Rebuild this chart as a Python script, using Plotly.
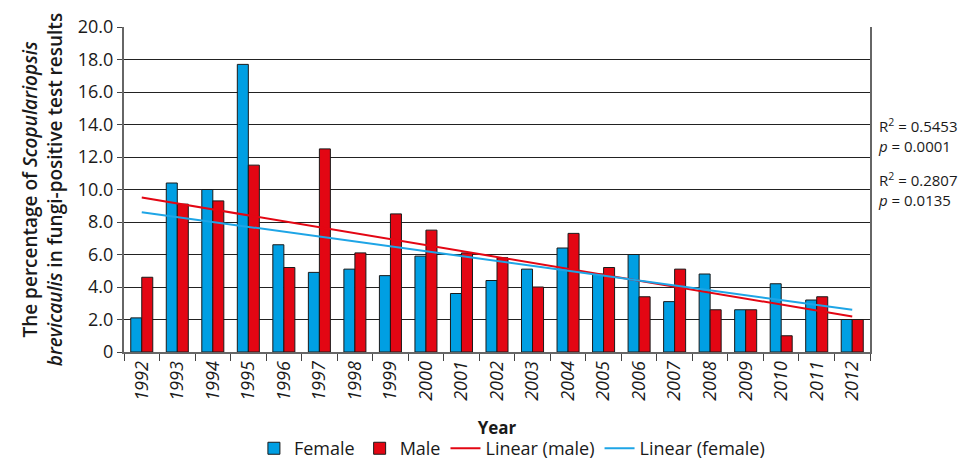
import numpy as np
import plotly.graph_objects as go

years = [str(y) for y in range(1992, 2013)]
female = [2.1, 10.4, 10.0, 17.7, 6.6, 4.9, 5.1, 4.7, 5.9, 3.6, 4.4, 5.1, 6.4, 4.8, 6.0, 3.1, 4.8, 2.6, 4.2, 3.2, 2.0]
male = [4.6, 9.1, 9.3, 11.5, 5.2, 12.5, 6.1, 8.5, 7.5, 6.1, 5.8, 4.0, 7.3, 5.2, 3.4, 5.1, 2.6, 2.6, 1.0, 3.4, 2.0]
y_ticks = [0, 2, 4, 6, 8, 10, 12, 14, 16, 18, 20]
y_ticktext = ["0", "2.0", "4.0", "6.0", "8.0", "10.0", "12.0", "14.0", "16.0", "18.0", "20.0"]
stats_male = ("0.5453", "0.0001")
stats_female = ("0.2807", "0.0135")

BLUE = "#009FE3"
RED = "#E30613"
LBLUE = "#1EA5E6"
FONT = "Open Sans"

idx = np.arange(len(years))
m_fit = np.polyval(np.polyfit(idx, male, 1), idx)
f_fit = np.polyval(np.polyfit(idx, female, 1), idx)

fig = go.Figure()
fig.add_trace(go.Bar(x=years, y=female, name="Female", marker=dict(color=BLUE, line=dict(color="#1a1a1a", width=1))))
fig.add_trace(go.Bar(x=years, y=male, name="Male", marker=dict(color=RED, line=dict(color="#1a1a1a", width=1))))
fig.add_trace(go.Scatter(x=years, y=m_fit, mode="lines", name="Linear (male)", line=dict(color=RED, width=2)))
fig.add_trace(go.Scatter(x=years, y=f_fit, mode="lines", name="Linear (female)", line=dict(color=LBLUE, width=2)))

# page body has an 8px default margin, so the figure is 8px smaller than the window
fig.update_layout(
    width=959, height=462,
    margin=dict(l=116, r=97, t=19, b=118, autoexpand=False),
    paper_bgcolor="white", plot_bgcolor="white",
    barmode="group", bargap=0.38, bargroupgap=0,
    font=dict(family=FONT, size=15, color="#1a1a1a"),
    showlegend=True,
    legend=dict(orientation="h", x=0.52, xanchor="center", y=-0.354, yanchor="bottom",
                font=dict(size=18, family=FONT), itemwidth=30, traceorder="normal"),
    xaxis=dict(
        type="category", tickmode="array", tickvals=years,
        ticktext=["<i>" + y + "</i>" for y in years],
        tickangle=-90, tickson="boundaries", ticks="outside", ticklen=7, tickcolor="#444",
        showline=True, linecolor="#666", linewidth=2, showgrid=False,
        tickfont=dict(size=18, family=FONT),
        title=dict(text="<b>Year</b>", font=dict(size=17, family=FONT), standoff=22),
    ),
    yaxis=dict(
        range=[0, 20], tickmode="array", tickvals=y_ticks, ticktext=y_ticktext,
        ticks="outside", ticklen=5, tickcolor="#444",
        showline=True, linecolor="#666", linewidth=2, mirror=True,
        showgrid=True, gridcolor="#222", gridwidth=1, zeroline=False,
        tickfont=dict(size=18, family=FONT),
        title=dict(text="The percentage of <i>Scopulariopsis</i><br><i>brevicaulis</i> in fungi-positive test results",
                   font=dict(size=19, family=FONT, weight=600), standoff=10),
    ),
)

fig.add_annotation(xref="paper", yref="paper", x=1, xshift=6, y=0.665, xanchor="left", yanchor="middle",
                   align="left", showarrow=False, font=dict(size=15, family=FONT, color="#1a1a1a"),
                   text="R<sup>2</sup> = " + stats_male[0] + "<br><i>p</i> = " + stats_male[1])
fig.add_annotation(xref="paper", yref="paper", x=1, xshift=6, y=0.50, xanchor="left", yanchor="middle",
                   align="left", showarrow=False, font=dict(size=15, family=FONT, color="#1a1a1a"),
                   text="R<sup>2</sup> = " + stats_female[0] + "<br><i>p</i> = " + stats_female[1])

fig.write_html("out.html")
